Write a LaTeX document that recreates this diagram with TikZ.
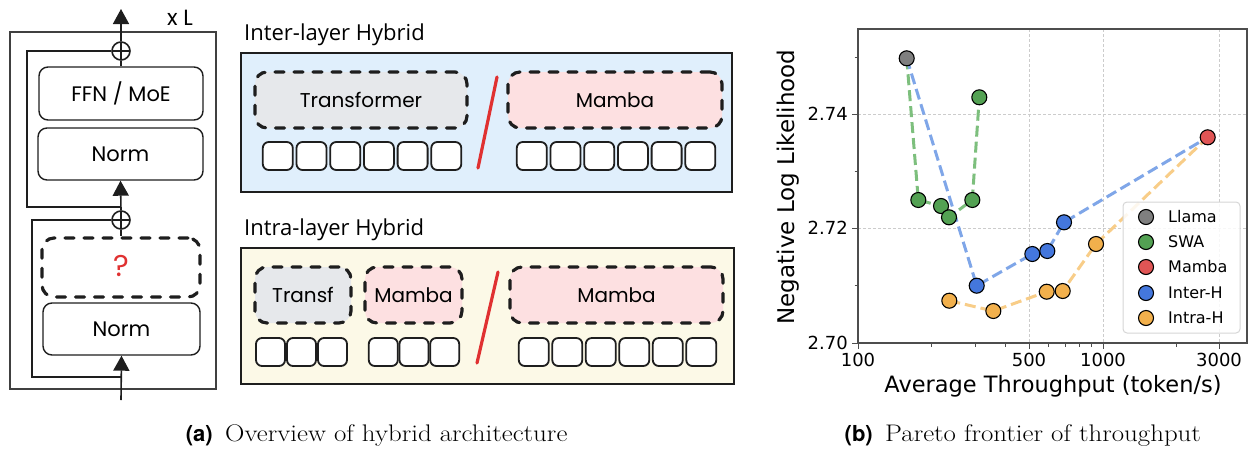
\documentclass[tikz,border=0pt]{standalone}
\usepackage{fontspec}
\usetikzlibrary{arrows.meta}
\newfontfamily\handf{Poppins}
\newfontfamily\uif{Open Sans}
\newfontfamily\plotf{DejaVu Sans}
\newfontfamily\capsf{TeX Gyre Heros}
\definecolor{edge}{HTML}{1E1E1E}
\definecolor{bluebg}{HTML}{E0EFFC}
\definecolor{yellowbg}{HTML}{FCF9E7}
\definecolor{graybox}{HTML}{E6E8EB}
\definecolor{pinkbox}{HTML}{FDE0E1}
\definecolor{xred}{HTML}{E03131}
\definecolor{cllama}{HTML}{7F7F7F}
\definecolor{cswa}{HTML}{53A153}
\definecolor{cmamba}{HTML}{E05555}
\definecolor{cinter}{HTML}{4477DD}
\definecolor{cintra}{HTML}{F2B04C}
\definecolor{lswa}{HTML}{7DBF7D}
\definecolor{linter}{HTML}{7FA6E8}
\definecolor{lintra}{HTML}{F8CD88}
\definecolor{axisc}{HTML}{4D4D4D}
\definecolor{gridc}{HTML}{CCCCCC}
\begin{document}
\begin{tikzpicture}[x=1pt,y=-1pt,
  blk/.style={draw=edge, line width=1.4pt, rounded corners=9pt, fill=white, font=\handf\fontsize{21}{21}\selectfont},
  dbox/.style={draw=edge, line width=3.2pt, dash pattern=on 9pt off 10pt, line cap=round, rounded corners=12pt, font=\handf\fontsize{20}{20}\selectfont},
  tok/.style={draw=edge, line width=1.8pt, rounded corners=6pt, fill=white, minimum width=30pt, minimum height=28pt, inner sep=0pt},
  wire/.style={draw=edge, line width=1.6pt},
  arr/.style={wire, -{Triangle[length=15pt,width=16pt]}},
  plus/.style={circle, draw=edge, line width=1.6pt, minimum size=18pt, inner sep=0pt, fill=white,
    path picture={\draw[edge, line width=1.6pt] (path picture bounding box.north) -- (path picture bounding box.south) (path picture bounding box.west) -- (path picture bounding box.east);}},
  panel/.style={draw=edge, line width=1.5pt},
  slash/.style={draw=xred, line width=3.2pt, line cap=round},
  mk/.style={circle, draw=black, line width=1.1pt, minimum size=15pt, inner sep=0pt},
  tk/.style={draw=axisc, line width=1pt},
  gl/.style={draw=gridc, line width=0.8pt, dash pattern=on 3pt off 2pt},
  ser/.style={line width=3pt, dash pattern=on 11pt off 5pt},
  tlab/.style={font=\plotf\fontsize{18}{18}\selectfont, inner sep=0pt},
  leglab/.style={font=\plotf\fontsize{16}{16}\selectfont, anchor=west, inner sep=0pt}
]
\useasboundingbox (0,0) rectangle (1249,450);

% ---------------- left block ----------------
\draw[draw=edge!85, line width=1.1pt] (10,32) rectangle (216,389);
\node[font=\handf\fontsize{22}{22}\selectfont] (xl) at (180,18) {x L};
\node[blk, minimum width=164pt, minimum height=53pt] (ffn) at (121,93.5) {FFN / MoE};
\node[blk, minimum width=165pt, minimum height=52pt] (norm2) at (120.5,154) {Norm};
\node[dbox, minimum width=158pt, minimum height=59pt] (q) at (121,267.5) {};
\node[font=\handf\fontsize{30}{30}\selectfont, text=xred] (qm) at (121,266) {?};
\node[blk, minimum width=157pt, minimum height=52pt] (norm1) at (121.5,329) {Norm};
\node[plus] (p1) at (121,51) {};
\node[plus] (p2) at (121,220) {};
\coordinate (in) at (121,400);
\coordinate (out) at (121,9);
\coordinate (r1) at (121,377);
\coordinate (r1c) at (32,220);
\coordinate (r2) at (121,207);
\coordinate (r2c) at (27,51);
\draw[wire] (r1) -| (r1c) -- (p2.west);
\draw[wire] (r2) -| (r2c) -- (p1.west);
\draw[arr] (in) -- (norm1.south);
\draw[wire] (q.north) -- (p2.south);
\draw[arr] (p2.north) -- (norm2.south);
\draw[wire] (ffn.north) -- (p1.south);
\draw[arr] (p1.north) -- (out);

% ---------------- middle: inter-layer ----------------
\node[anchor=west, font=\uif\fontsize{22}{22}\selectfont, inner sep=0pt] (t1) at (244,35) {Inter-layer Hybrid};
\draw[panel, fill=bluebg] (241,53) rectangle (732,192);
\node[dbox, fill=graybox, minimum width=212pt, minimum height=56pt] (tr) at (361,100) {Transformer};
\node[dbox, fill=pinkbox, minimum width=214pt, minimum height=56pt] (ma) at (615,100) {Mamba};
\coordinate (s1a) at (497,77);
\coordinate (s1b) at (478,168);
\draw[slash] (s1a) -- (s1b);
\foreach \i in {0,...,5} {
  \node[tok] (ta\i) at ({261+16.8+33.7*\i},156) {};
  \node[tok] (tb\i) at ({515+16.8+33.7*\i},156) {};
}

% ---------------- middle: intra-layer ----------------
\node[anchor=west, font=\uif\fontsize{22}{22}\selectfont, inner sep=0pt] (t2) at (244,230) {Intra-layer Hybrid};
\draw[panel, fill=yellowbg] (241,248) rectangle (734,384);
\node[dbox, fill=graybox, minimum width=96pt, minimum height=56pt] (tf) at (303,295) {Transf};
\node[dbox, fill=pinkbox, minimum width=97pt, minimum height=56pt] (ms) at (413.5,295) {Mamba};
\node[dbox, fill=pinkbox, minimum width=213pt, minimum height=56pt] (mb) at (616.5,295) {Mamba};
\coordinate (s2a) at (498,272);
\coordinate (s2b) at (477,363);
\draw[slash] (s2a) -- (s2b);
\foreach \i in {0,1,2} {
  \node[tok, minimum width=29pt] (tc\i) at ({255+15.5+31*\i},352) {};
  \node[tok, minimum width=29pt] (td\i) at ({368+15.3+30.7*\i},352) {};
}
\foreach \i in {0,...,5} {
  \node[tok] (te\i) at ({517+16.8+33.5*\i},352) {};
}

% ---------------- right: chart ----------------
\draw[gl] (1029,29) -- (1029,343);
\draw[gl] (1103,29) -- (1103,343);
\draw[gl] (1219,29) -- (1219,343);
\draw[gl] (858,228) -- (1247,228);
\draw[gl] (858,114) -- (1247,114);
\draw[draw=axisc, line width=1.2pt] (858,29) rectangle (1247,343);
\foreach \y/\l in {343/2.70, 228/2.72, 114/2.74} {
  \draw[tk] (852,\y) -- (858,\y);
  \node[tlab, anchor=east] at (848,\y) {\l};
}
\foreach \y in {285.5,171,57} { \draw[tk, line width=0.8pt] (854.5,\y) -- (858,\y); }
\foreach \x/\l in {858/100, 1029/500, 1103/1000, 1219/3000} {
  \draw[tk] (\x,343) -- (\x,349);
  \node[tlab, anchor=north] at (\x,353) {\l};
}
\foreach \x in {931.8,974.9,1005.5,1048.6,1065.0,1079.3,1091.8,1176.8} { \draw[tk, line width=0.8pt] (\x,343) -- (\x,346.5); }
\node[font=\plotf\fontsize{23}{23}\selectfont, rotate=90] (ylab) at (788,187) {Negative Log Likelihood};
\node[font=\plotf\fontsize{22.5}{22.5}\selectfont] (xlab) at (1053,386) {Average Throughput (token/s)};

\coordinate (L) at (906.7,58.3);
\coordinate (S1) at (918.3,200);
\coordinate (S2) at (941,206);
\coordinate (S3) at (949,217.3);
\coordinate (S4) at (972.3,200);
\coordinate (S5) at (979.3,97.3);
\coordinate (M) at (1207.7,137.3);
\coordinate (I1) at (976.7,285.7);
\coordinate (I2) at (1032.3,254);
\coordinate (I3) at (1047.3,251);
\coordinate (I4) at (1064,222.3);
\coordinate (A1) at (949.3,300.7);
\coordinate (A2) at (993.3,311);
\coordinate (A3) at (1046.7,291.7);
\coordinate (A4) at (1062.7,291);
\coordinate (A5) at (1096,244);
\draw[ser, draw=lswa] (L) -- (S1) -- (S2) -- (S3) -- (S4) -- (S5);
\draw[ser, draw=linter] (L) -- (I1) -- (I2) -- (I3) -- (I4) -- (M);
\draw[ser, draw=lintra] (A1) -- (A2) -- (A3) -- (A4) -- (A5) -- (M);
\node[mk, fill=cllama] (mL) at (L) {};
\foreach \p in {S1,S2,S3,S4,S5} { \node[mk, fill=cswa] (m\p) at (\p) {}; }
\node[mk, fill=cmamba] (mM) at (M) {};
\foreach \p in {I1,I2,I3,I4} { \node[mk, fill=cinter] (m\p) at (\p) {}; }
\foreach \p in {A1,A2,A3,A4,A5} { \node[mk, fill=cintra] (m\p) at (\p) {}; }

\node[draw=gridc!80, fill=white, fill opacity=0.85, rounded corners=4pt, line width=1pt, minimum width=117pt, minimum height=131pt] (leg) at (1181.5,267.5) {};
\foreach \y/\c/\l in {217/cllama/Llama, 242/cswa/SWA, 267/cmamba/Mamba, 293/cinter/Inter-H, 318/cintra/Intra-H} {
  \node[mk, fill=\c] at (1146,\y) {};
  \node[leglab] at (1168,\y) {\l};
}

% captions
\node[anchor=base east, font=\capsf\bfseries\fontsize{22}{22}\selectfont, inner sep=0pt] (capa) at (213,441) {(a)};
\node[anchor=base west, font=\fontsize{24}{24}\selectfont, inner sep=0pt] (capat) at (225,441) {\scalebox{1.12}[1]{Overview of hybrid architecture}};
\node[anchor=base east, font=\capsf\bfseries\fontsize{22}{22}\selectfont, inner sep=0pt] (capb) at (873,441) {(b)};
\node[anchor=base west, font=\fontsize{24}{24}\selectfont, inner sep=0pt] (capbt) at (885,441) {\scalebox{1.12}[1]{Pareto frontier of throughput}};
\end{tikzpicture}
\end{document}
